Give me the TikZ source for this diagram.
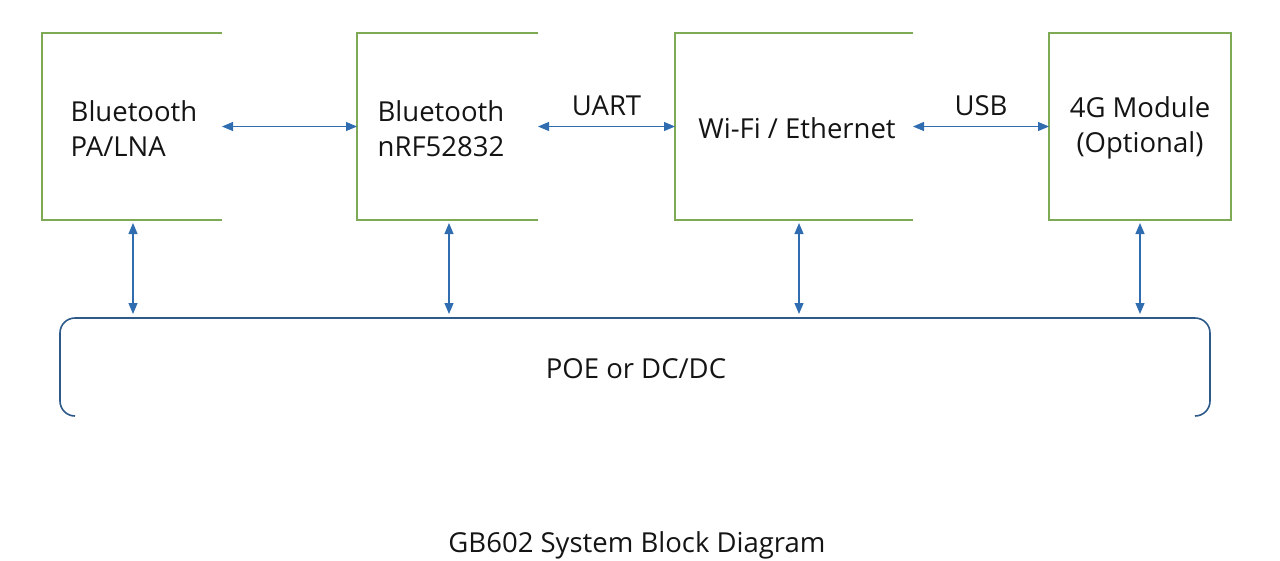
\documentclass[tikz,border=0pt]{standalone}
\usepackage{fontspec}
\setmainfont{Open Sans}
\usetikzlibrary{arrows.meta,positioning,calc}
\definecolor{boxgreen}{HTML}{7FAA55}
\definecolor{arrowblue}{HTML}{2F6DB0}
\definecolor{busblue}{HTML}{2D5A8A}
\definecolor{txt}{HTML}{141414}
\tikzset{
  blk/.style={minimum width=#1, minimum height=187pt, inner sep=0pt, outer sep=0pt},
  border/.style={draw=boxgreen, line width=1.6pt},
  lbl/.style={font=\fontsize{27.5}{35}\selectfont, text=txt, align=center, inner sep=0pt},
  biarrow/.style={arrowblue, line width=1.2pt, {Triangle[length=11pt,width=9pt]}-{Triangle[length=11pt,width=9pt]}},
  bus/.style={draw=busblue, line width=1.6pt}
}
\begin{document}
\begin{tikzpicture}[x=1pt,y=-1pt]
\useasboundingbox (0,0) rectangle (1280,560);
% blocks
\node[blk=180pt] (b1) at (132,126.5) {};
\node[blk=181pt] (b2) at (447.5,126.5) {};
\node[blk=238pt] (b3) at (794,126.5) {};
\node[blk=182pt] (b4) at (1140,126.5) {};
\draw[border] (b1.north east) -- (b1.north west) -- (b1.south west) -- (b1.south east);
\draw[border] (b2.north east) -- (b2.north west) -- (b2.south west) -- (b2.south east);
\draw[border] (b3.north east) -- (b3.north west) -- (b3.south west) -- (b3.south east);
\draw[border] (b4.north east) -- (b4.north west) -- (b4.south west) -- (b4.south east) -- cycle;
% labels
\node[lbl, align=left] (t1) at (134,129) {Bluetooth\\PA/LNA};
\node[lbl, align=left] (t2) at (441,129) {Bluetooth\\nRF52832};
\node[lbl] (t3) at (797,128) {Wi-Fi / Ethernet};
\node[lbl] (t4) at (1140,127.5) {4G Module\\(Optional)};
% bus
\node[minimum width=1150pt, minimum height=98pt, inner sep=0pt, outer sep=0pt] (pw) at (635,367) {};
\draw[bus, rounded corners=15pt] ($(pw.south west)+(15,0)$) -- (pw.south west) -- (pw.north west)
  -- (pw.north east) -- (pw.south east) -- ($(pw.south east)+(-15,0)$);
\node[lbl] (pt) at (636,369) {POE or DC/DC};
% horizontal arrows
\draw[biarrow] (b1.east) -- (b2.west);
\draw[biarrow] (b2.east) -- node[lbl, above=10pt] (uart) {UART} (b3.west);
\draw[biarrow] (b3.east) -- node[lbl, above=10pt] (usb) {USB} (b4.west);
% vertical arrows
\draw[biarrow, shorten <=3pt, shorten >=4pt] (133,220) coordinate (v1) -- (v1 |- pw.north);
\draw[biarrow, shorten <=3pt, shorten >=4pt] (449,220) coordinate (v2) -- (v2 |- pw.north);
\draw[biarrow, shorten <=3pt, shorten >=4pt] (799,220) coordinate (v3) -- (v3 |- pw.north);
\draw[biarrow, shorten <=3pt, shorten >=4pt] (1140,220) coordinate (v4) -- (v4 |- pw.north);
% title
\node[lbl] (title) at (637,545) {GB602 System Block Diagram};
\end{tikzpicture}
\end{document}
